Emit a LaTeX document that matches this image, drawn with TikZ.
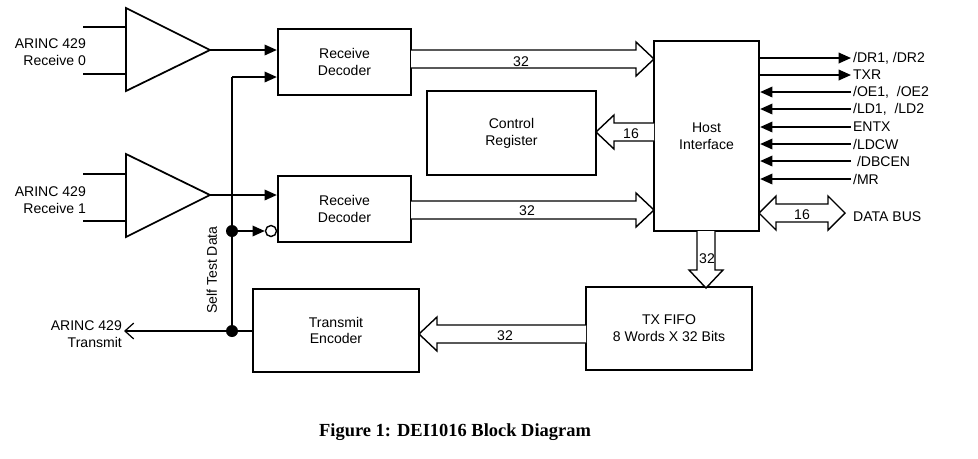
\documentclass[tikz,border=0pt]{standalone}
\usepackage{fontspec}
\setmainfont{Liberation Sans}
\newfontfamily\capfont{Liberation Serif}
\usetikzlibrary{arrows.meta}

\tikzset{
  blk/.style={draw, line width=1.3pt, inner sep=0pt, align=center, font=\fontsize{8}{9.6}\selectfont},
  lbl/.style={inner sep=1pt, align=right, font=\fontsize{8}{9.6}\selectfont},
  sig/.style={line width=1pt, -{Triangle[length=7pt,width=6pt]}},
  bus/.style={line width=0.8pt, fill=white}
}
% hollow bus arrow: tail x, tip x, centre y
\newcommand\hbus[3]{%
  \pgfmathsetmacro\hs{(#2>#1)?1:-1}%
  \draw[bus] ({#1},{#3-9}) -- ({#2-18*\hs},{#3-9}) -- ({#2-18*\hs},{#3-17})
    -- ({#2},{#3}) -- ({#2-18*\hs},{#3+17}) -- ({#2-18*\hs},{#3+9}) -- ({#1},{#3+9});}

\begin{document}
\begin{tikzpicture}[x=0.02cm, y=-0.02cm]
  \useasboundingbox (0,0) rectangle (978,458);

  % blocks
  \node[blk, minimum width=133*0.02cm, minimum height=66*0.02cm] (rd0) at (344.5,62) {Receive\\Decoder};
  \node[blk, minimum width=133*0.02cm, minimum height=66*0.02cm] (rd1) at (344.5,209) {Receive\\Decoder};
  \node[blk, minimum width=169*0.02cm, minimum height=84*0.02cm] (ctrl) at (511.5,133) {Control\\Register};
  \node[blk, minimum width=105*0.02cm, minimum height=190*0.02cm] (host) at (706.5,136) {Host\\Interface};
  \node[blk, minimum width=166*0.02cm, minimum height=83*0.02cm] (enc) at (336,330.5) {Transmit\\Encoder};
  \node[blk, minimum width=166*0.02cm, minimum height=83*0.02cm] (fifo) at (669,328.5) {TX FIFO\\8 Words X 32 Bits};

  % line receivers
  \draw[line width=1pt] (126,8) -- (126,91) -- (210,50) -- cycle;
  \draw[line width=1pt] (126,154) -- (126,237) -- (210,195) -- cycle;
  \coordinate (amp0) at (210,50);
  \coordinate (amp1) at (210,195);
  \draw[line width=1pt] (83,27) -- (126,27) (83,74) -- (126,74);
  \draw[line width=1pt] (83,174) -- (126,174) (83,221) -- (126,221);
  \node[lbl, anchor=east] (in0) at (88,52) {ARINC 429\\Receive 0};
  \node[lbl, anchor=east] (in1) at (88,200) {ARINC 429\\Receive 1};
  \draw[sig] (amp0) -- (amp0 -| rd0.west);
  \draw[sig] (amp1) -- (amp1 -| rd1.west);

  % self test loop
  \coordinate (st0) at (232,77);
  \coordinate (st1) at (232,231);
  \coordinate (st2) at (232,331);
  \node[draw, circle, line width=0.8pt, fill=white, minimum size=11*0.02cm, inner sep=0pt] (inv) at (271,231) {};
  \draw[line width=1pt] (st2) -- (st0);
  \draw[sig] (st0) -- (st0 -| rd0.west);
  \draw[sig] (st1) -- (inv.west);
  \fill (st1) circle (6) (st2) circle (6);
  \node[lbl, rotate=90, anchor=south west] (stl) at (219,316) {Self Test Data};
  \node[lbl, anchor=east] (tx) at (124,334) {ARINC 429\\Transmit};
  \draw[line width=0.7pt, -{Straight Barb[length=5pt,width=9pt]}] (st2 -| enc.west) -- (tx.east |- st2);

  % buses
  \hbus{411}{654}{59}
  \hbus{411}{654}{210}
  \hbus{654}{596}{132}
  \hbus{586}{419}{334}
  \node[lbl] (b0) at (521,62) {32};
  \node[lbl] (b1) at (527,211) {32};
  \node[lbl] (b2) at (631,134) {16};
  \node[lbl] (b3) at (505,336) {32};
  \draw[bus] (697,231) -- (697,270) -- (689,270) -- (706,288) -- (723,270) -- (715,270) -- (715,231);
  \node[lbl] (b4) at (707,259) {32};
  \draw[bus] (759,213) -- (776,196) -- (776,204) -- (828,204) -- (828,196) -- (845,213)
    -- (828,230) -- (828,222) -- (776,222) -- (776,230) -- cycle;
  \node[lbl] (b5) at (802,215) {16};
  \node[lbl, anchor=west] (dbus) at (851,217) {DATA BUS};

  % host signals
  \foreach \nm/\yy/\txt in {dr/58/{/DR1, /DR2}, txr/75/TXR}
    {\node[lbl, anchor=west] (\nm) at (851,\yy) {\txt};
     \draw[sig] (host.east |- \nm) -- (\nm.west);}
  \foreach \nm/\yy/\txt in {oe/92/{/OE1,\ \ /OE2}, ld/109/{/LD1,\ \ /LD2}, entx/127/ENTX,
      ldcw/144/{/LDCW}, dbcen/161/{\ /DBCEN}, mr/179/{/MR}}
    {\node[lbl, anchor=west] (\nm) at (851,\yy) {\txt};
     \draw[sig] (\nm.west) -- (host.east |- \nm);}

  % caption
  \node[inner sep=0pt] (cap) at (455,432) {\capfont\bfseries\fontsize{10.5}{12}\selectfont Figure 1: DEI1016 Block Diagram};
\end{tikzpicture}
\end{document}
